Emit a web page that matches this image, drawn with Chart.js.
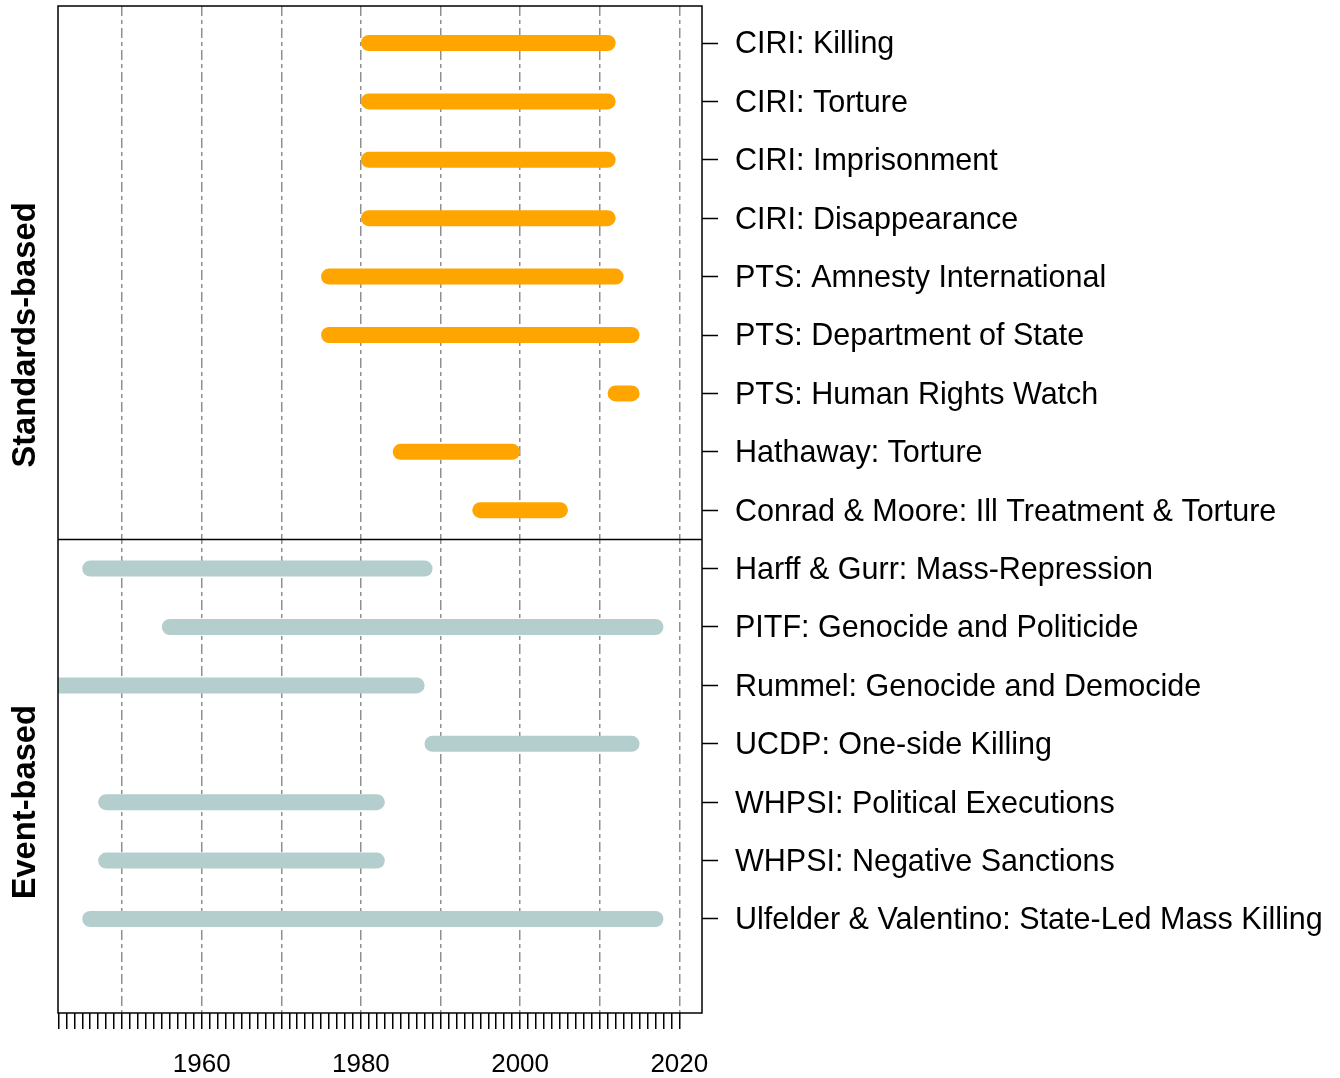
<!DOCTYPE html>
<html>
<head>
<meta charset="utf-8">
<script src="https://cdn.jsdelivr.net/npm/chart.js@4/dist/chart.umd.min.js"></script>
<style>
  html, body { margin: 0; padding: 0; background: #ffffff; }
  #wrap { width: 1340px; height: 1078px; }
</style>
</head>
<body>
<div id="wrap"><canvas id="c" width="1340" height="1078"></canvas></div>
<script>
// ---- data ----
const measures = [
  "CIRI: Killing",
  "CIRI: Torture",
  "CIRI: Imprisonment",
  "CIRI: Disappearance",
  "PTS: Amnesty International",
  "PTS: Department of State",
  "PTS: Human Rights Watch",
  "Hathaway: Torture",
  "Conrad & Moore: Ill Treatment & Torture",
  "Harff & Gurr: Mass-Repression",
  "PITF: Genocide and Politicide",
  "Rummel: Genocide and Democide",
  "UCDP: One-side Killing",
  "WHPSI: Political Executions",
  "WHPSI: Negative Sanctions",
  "Ulfelder & Valentino: State-Led Mass Killing"
];
const startYears = [1981, 1981, 1981, 1981, 1976, 1976, 2012, 1985, 1995, 1946, 1956, 1900, 1989, 1948, 1948, 1946];
const endYears   = [2011, 2011, 2011, 2011, 2012, 2014, 2014, 1999, 2005, 1988, 2017, 1987, 2014, 1982, 1982, 2017];
const groupOf    = ["S","S","S","S","S","S","S","S","S","E","E","E","E","E","E","E"];
const groupNames = { S: "Standards-based", E: "Event-based" };
const groupLabelRow = { S: 6, E: 14 };
const yearTicks = [];
for (let y = 1942; y <= 2020; y++) yearTicks.push(y);
const yearLabels = [1960, 1980, 2000, 2020];

const groupColors = { S: "#FFA500", E: "#B4CDCD" };
const FONT = "'Liberation Sans', Arial, Helvetica, sans-serif";

const datasets = measures.map((m, i) => ({
  label: m,
  data: [{ x: startYears[i], y: i + 1 }, { x: endYears[i], y: i + 1 }],
  showLine: true,
  borderColor: groupColors[groupOf[i]],
  backgroundColor: groupColors[groupOf[i]],
  borderWidth: 16,
  borderCapStyle: "round",
  pointRadius: 0,
  pointHoverRadius: 0,
  clip: 0
}));

const extras = {
  id: "extras",
  afterDatasetsDraw(chart) {
    const { ctx, chartArea: a, scales } = chart;
    ctx.save();
    const ySep = scales.y.getPixelForValue(9.5);
    ctx.strokeStyle = "#000";
    ctx.lineWidth = 1.5;
    ctx.beginPath();
    ctx.moveTo(a.left, ySep);
    ctx.lineTo(a.right, ySep);
    ctx.stroke();
    ctx.strokeRect(a.left, a.top, a.right - a.left, a.bottom - a.top);
    ctx.fillStyle = "#000";
    ctx.font = "bold 32.7px " + FONT;
    ctx.textAlign = "center";
    ctx.textBaseline = "alphabetic";
    ["S", "E"].forEach(g => {
      const yc = scales.y.getPixelForValue(groupLabelRow[g]);
      ctx.save();
      ctx.translate(35, yc);
      ctx.rotate(-Math.PI / 2);
      ctx.fillText(groupNames[g], 0, 0);
      ctx.restore();
    });
    ctx.restore();
  }
};

function noPad(scale) {
  scale.paddingTop = 0; scale.paddingBottom = 0;
  scale.paddingLeft = 0; scale.paddingRight = 0;
}

new Chart(document.getElementById("c"), {
  type: "scatter",
  data: { datasets },
  options: {
    responsive: false,
    animation: false,
    events: [],
    layout: { padding: { left: 58, top: 6, right: 0, bottom: 0 } },
    plugins: { legend: { display: false }, tooltip: { enabled: false } },
    scales: {
      x: {
        type: "linear",
        position: "bottom",
        min: 1941.95,
        max: 2022.85,
        afterBuildTicks(scale) { scale.ticks = yearTicks.map(v => ({ value: v })); },
        afterFit(scale) { scale.height = 65; noPad(scale); },
        border: { display: false, dash: [10, 4, 4, 4] },
        grid: {
          drawOnChartArea: true,
          color: (c) => (c.tick && c.tick.value % 10 === 0) ? "#8f8f8f" : "rgba(0,0,0,0)",
          lineWidth: 1.5,
          tickColor: "#000",
          tickWidth: 1.5,
          tickLength: 16,
          tickBorderDash: []
        },
        ticks: {
          autoSkip: false,
          maxRotation: 0,
          minRotation: 0,
          padding: 20,
          color: "#000",
          font: { family: FONT, size: 26 },
          callback: (v) => yearLabels.includes(v) ? String(v) : ""
        }
      },
      y: {
        type: "linear",
        position: "right",
        reverse: true,
        min: 0.366,
        max: 17.61,
        afterBuildTicks(scale) { scale.ticks = measures.map((m, i) => ({ value: i + 1 })); },
        afterFit(scale) { scale.width = 638; noPad(scale); },
        border: { display: false },
        grid: {
          drawOnChartArea: false,
          tickColor: "#000",
          tickWidth: 1.5,
          tickLength: 16
        },
        ticks: {
          autoSkip: false,
          padding: 17,
          labelOffset: 2,
          color: "#000",
          font: { family: FONT, size: 30.5 },
          callback: (v) => measures[v - 1] || ""
        }
      }
    }
  },
  plugins: [extras]
});
</script>
</body>
</html>
